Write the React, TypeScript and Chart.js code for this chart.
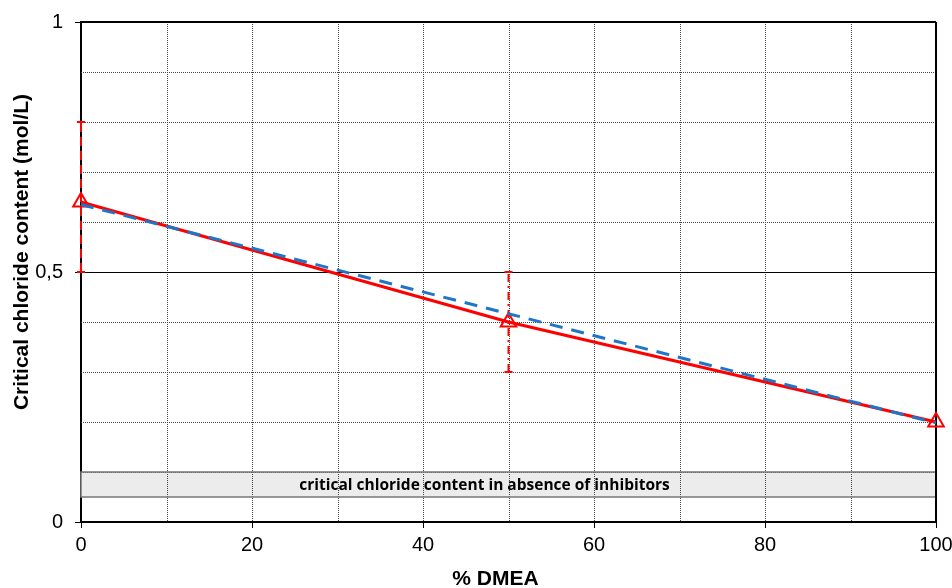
import React, { useEffect, useRef } from "react";
import { Chart, registerables } from "chart.js";

Chart.register(...registerables);

const dmea = [0, 50, 100];
const chloride = [0.64, 0.4, 0.2];
const trendX = [0, 100];
const trendY = [0.635, 0.198];
const errX0 = [0, 0];
const errY0 = [0.5, 0.8];
const errX50 = [50, 50];
const errY50 = [0.3, 0.5];
const bandRange = [0.05, 0.1];
const bandLabel = "critical chloride content in absence of inhibitors";
const bandLabelX = 47.2;
const xTitle = "% DMEA";
const yTitle = "Critical chloride content (mol/L)";

const pts = (xs: number[], ys: number[]) => xs.map((x, i) => ({ x, y: ys[i] }));

const gridPlugin = {
  id: "customGrid",
  beforeDatasetsDraw(chart: any) {
    const { ctx, chartArea: a, scales } = chart;
    const xs = scales.x;
    const ys = scales.y;
    ctx.save();
    const yTop = ys.getPixelForValue(bandRange[1]);
    const yBot = ys.getPixelForValue(bandRange[0]);
    ctx.fillStyle = "#ececec";
    ctx.fillRect(a.left, yTop, a.right - a.left, yBot - yTop);
    ctx.strokeStyle = "#444";
    ctx.lineWidth = 1;
    ctx.setLineDash([1, 1]);
    for (let v = 10; v < 100; v += 10) {
      const px = Math.round(xs.getPixelForValue(v)) + 0.5;
      ctx.beginPath();
      ctx.moveTo(px, a.top);
      ctx.lineTo(px, a.bottom);
      ctx.stroke();
    }
    for (let i = 1; i < 10; i++) {
      if (i === 5) continue;
      const py = Math.round(ys.getPixelForValue(i / 10)) + 0.5;
      ctx.beginPath();
      ctx.moveTo(a.left, py);
      ctx.lineTo(a.right, py);
      ctx.stroke();
    }
    ctx.setLineDash([]);
    ctx.strokeStyle = "#000";
    const p5 = Math.round(ys.getPixelForValue(0.5)) + 0.5;
    ctx.beginPath();
    ctx.moveTo(a.left, p5);
    ctx.lineTo(a.right, p5);
    ctx.stroke();
    ctx.strokeStyle = "#777";
    ctx.lineWidth = 1.5;
    ctx.strokeRect(a.left, yTop, a.right - a.left, yBot - yTop);
    ctx.fillStyle = "#000";
    ctx.font = "bold 15.5px 'Open Sans'";
    ctx.textAlign = "center";
    ctx.textBaseline = "middle";
    ctx.fillText(bandLabel, xs.getPixelForValue(bandLabelX), (yTop + yBot) / 2 + 1);
    ctx.strokeStyle = "#000";
    ctx.lineWidth = 2;
    ctx.beginPath();
    ctx.moveTo(a.left, a.top);
    ctx.lineTo(a.right, a.top);
    ctx.moveTo(a.right, a.top);
    ctx.lineTo(a.right, a.bottom);
    ctx.stroke();
    ctx.restore();
  },
  afterDraw(chart: any) {
    const { ctx, chartArea: a } = chart;
    ctx.save();
    ctx.fillStyle = "#000";
    ctx.font = "bold 21px 'Liberation Sans'";
    ctx.textAlign = "center";
    ctx.textBaseline = "alphabetic";
    ctx.fillText(xTitle, (a.left + a.right) / 2 - 13, 585);
    ctx.translate(28, (a.top + a.bottom) / 2 - 20);
    ctx.rotate(-Math.PI / 2);
    ctx.fillText(yTitle, 0, 0);
    ctx.restore();
  },
};

export default function App() {
  const ref = useRef<HTMLCanvasElement>(null);
  useEffect(() => {
    const tickFont = { family: "'Liberation Sans'", size: 20 };
    const chart = new Chart(ref.current as HTMLCanvasElement, {
      type: "scatter",
      data: {
        datasets: [
          {
            data: pts(errX0, errY0),
            showLine: true,
            clip: false,
            borderColor: "#ff0000",
            borderWidth: 2,
            borderDash: [9, 5],
            pointStyle: "line",
            pointRadius: 4,
            pointBorderWidth: 2,
            pointBorderColor: "#ff0000",
            order: 3,
          },
          {
            data: pts(errX50, errY50),
            showLine: true,
            clip: false,
            borderColor: "#ff0000",
            borderWidth: 2,
            borderDash: [8, 4, 2, 4],
            pointStyle: "line",
            pointRadius: 4,
            pointBorderWidth: 2,
            pointBorderColor: "#ff0000",
            order: 3,
          },
          {
            data: pts(dmea, chloride),
            showLine: true,
            clip: false,
            borderColor: "#ff0000",
            borderWidth: 3,
            pointStyle: "triangle",
            pointRadius: 9,
            pointBorderWidth: 2,
            pointBorderColor: "#ff0000",
            pointBackgroundColor: "rgba(255,255,255,0)",
            order: 2,
          },
          {
            data: pts(trendX, trendY),
            showLine: true,
            clip: false,
            borderColor: "#1f76c6",
            borderWidth: 3,
            borderDash: [13, 9],
            pointRadius: 0,
            order: 1,
          },
        ],
      },
      options: {
        responsive: false,
        animation: false,
        layout: { padding: { left: 0, right: 16, top: 22, bottom: 0 } },
        plugins: { legend: { display: false }, tooltip: { enabled: false } },
        scales: {
          x: {
            type: "linear",
            min: 0,
            max: 100,
            ticks: {
              stepSize: 20,
              color: "#000",
              font: tickFont,
              padding: 5,
              maxRotation: 0,
            },
            grid: { display: true, drawOnChartArea: false, drawTicks: true, tickLength: 6, color: "#000" },
            border: { display: true, color: "#000", width: 2 },
            title: { display: false },
            afterFit: (s: any) => {
              s.height = 66;
              s.paddingLeft = 0;
              s.paddingRight = 0;
            },
          },
          y: {
            type: "linear",
            min: 0,
            max: 1,
            ticks: {
              stepSize: 0.5,
              color: "#000",
              font: tickFont,
              padding: 12,
              callback: (v: any) => String(v).replace(".", ","),
            },
            grid: { display: true, drawOnChartArea: false, drawTicks: true, tickLength: 6, color: "#000" },
            border: { display: true, color: "#000", width: 2 },
            title: { display: false },
            afterFit: (s: any) => {
              s.width = 81;
              s.paddingTop = 0;
              s.paddingBottom = 0;
            },
          },
        },
      },
      plugins: [gridPlugin],
    } as any);
    return () => chart.destroy();
  }, []);
  return (
    <div style={{ position: "absolute", left: 0, top: 0, width: 952, height: 588, background: "#fff" }}>
      <canvas ref={ref} width={952} height={588} style={{ display: "block" }} />
    </div>
  );
}
